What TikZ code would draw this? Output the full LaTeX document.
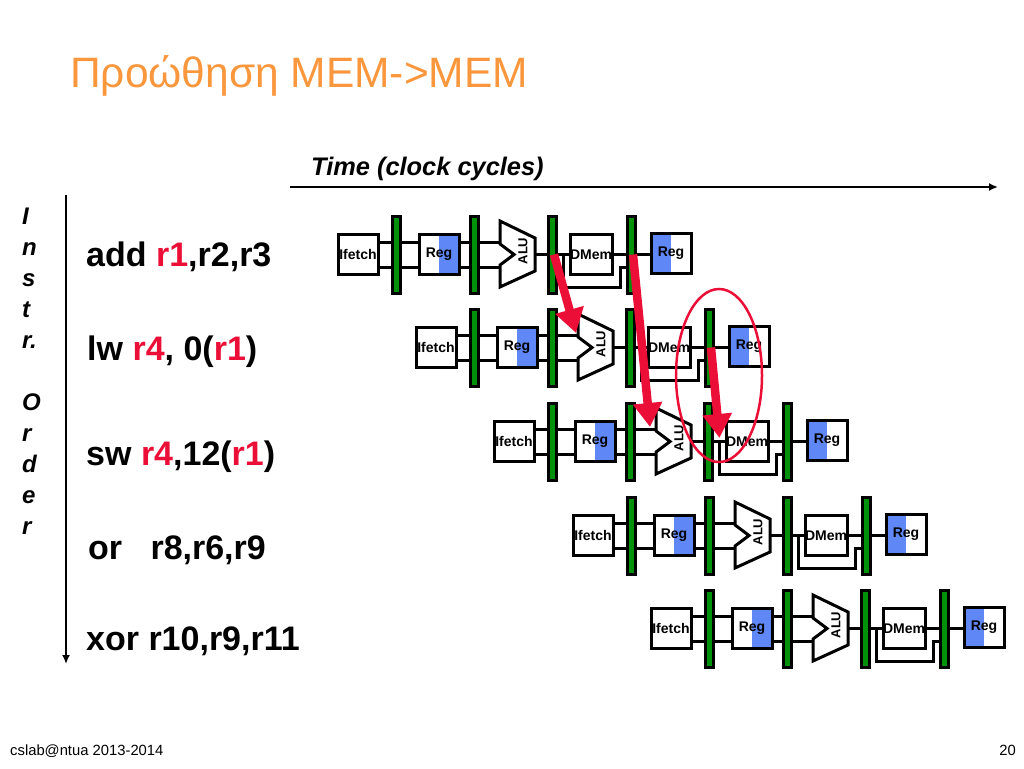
\documentclass[tikz,border=0pt]{standalone}
\usepackage{fontspec}
\setmainfont{Liberation Sans}
\usepackage{xcolor}
\usetikzlibrary{positioning,calc,arrows.meta,shapes.geometric}
\definecolor{titleorange}{RGB}{250,150,60}
\definecolor{fwdred}{RGB}{235,15,55}
\definecolor{latchgreen}{RGB}{0,145,10}
\definecolor{regblue}{RGB}{95,135,245}
\newcommand{\instrfont}{\fontsize{34}{40}\selectfont\bfseries}
\newcommand{\rr}[1]{\textcolor{fwdred}{#1}}
\tikzset{
    unit/.style={draw, line width=3pt, fill=white, minimum size=40pt, inner sep=0pt, font=\fontsize{14}{16}\selectfont\bfseries},
    regright/.style={unit, path picture={\fill[regblue] (path picture bounding box.south) rectangle (path picture bounding box.north east);}},
    regleft/.style={unit, path picture={\fill[regblue] (path picture bounding box.south west) rectangle (path picture bounding box.north);}},
    latch/.style={draw, line width=3pt, fill=latchgreen, minimum width=8pt, minimum height=77pt, inner sep=0pt},
    wire/.style={line width=3pt},
    axisline/.style={line width=2pt, -{Latex[length=9pt,width=8pt]}},
    fwd/.style={line width=8.5pt, draw=fwdred, fill=fwdred, -{Triangle[length=24pt,width=28pt]}},
    instr/.style={anchor=base west, font=\instrfont}
}
\begin{document}
\begin{tikzpicture}[x=1pt,y=-1pt]
    \useasboundingbox (0,0) rectangle (1024,768);

    % Title and footer
    \node[anchor=base west, inner sep=0pt, text=titleorange, font=\fontsize{42.5}{48}\selectfont] (title) at (70,87) {Προώθηση MEM->MEM};
    \node[anchor=base west, inner sep=0pt, font=\fontsize{14.8}{18}\selectfont] (footer) at (10,755) {cslab@ntua 2013-2014};
    \node[anchor=base east, inner sep=0pt, font=\fontsize{14.8}{18}\selectfont] (pagenum) at (1016,755) {20};

    % Axes
    \node[anchor=base west, inner sep=0pt, font=\fontsize{25.4}{28}\selectfont\bfseries\itshape] (timelabel) at (311,175) {Time (clock cycles)};
    \coordinate (timestart) at (290,187);
    \coordinate (timeend) at (998,187);
    \draw[axisline] (timestart) -- (timeend);
    \coordinate (orderstart) at (66,195);
    \coordinate (orderend) at (66,664);
    \draw[axisline] (orderstart) -- (orderend);
    \node[anchor=north west, inner sep=0pt, align=left, font=\fontsize{24}{31}\selectfont\bfseries\itshape] (orderlabel) at (22,208) {I\\n\\s\\t\\r.\\[31pt]O\\r\\d\\e\\r};

    % Instructions
    \node[instr, inner sep=0pt] (instrA) at (86,266) {add \rr{r1},r2,r3};
    \node[instr, inner sep=0pt] (instrB) at (87,360) {lw \rr{r4}, 0(\rr{r1})};
    \node[instr, inner sep=0pt] (instrC) at (86,465) {sw \rr{r4},12(\rr{r1})};
    \node[instr, inner sep=0pt] (instrD) at (88,559) {or\ \ \ r8,r6,r9};
    \node[instr, inner sep=0pt] (instrE) at (86,650) {xor r10,r9,r11};

    % Pipeline rows
    \foreach \row/\dx/\dy in {1/0/0, 2/78/93, 3/156/187, 4/235/281, 5/313/374} {
        \begin{scope}[shift={(\dx,\dy)}]
            \node[unit] (fetch\row) at (358,254.5) {Ifetch};
            \node[latch] (latchA\row) at (396,254.5) {};
            \node[regright] (reg\row) at (439,254.5) {Reg};
            \node[latch] (latchB\row) at (474,254.5) {};
            \node[latch] (latchC\row) at (552,254.5) {};
            \node[unit] (dmem\row) at (591,254.5) {DMem};
            \node[latch] (latchD\row) at (631,254.5) {};
            \node[regleft] (wb\row) at (671,253) {\raisebox{3pt}{Reg}};
            % ALU outline
            \draw[line width=3pt, fill=white, line join=miter] (500,221) -- (535,238) -- (535,271) -- (500,287) -- (500,265) -- (514,254.5) -- (500,244) -- cycle;
            \node[rotate=90, inner sep=0pt, font=\fontsize{13}{16}\selectfont\bfseries] (alu\row) at (523,251) {ALU};
            \coordinate (alutop\row) at (500,242);
            \coordinate (alubot\row) at (500,267);
            \coordinate (aluout\row) at (535,254.5);
            \coordinate (tap\row) at (563,254.5);
            \coordinate (turn\row) at (620,287);
        \end{scope}
        \draw[wire] ([yshift=12.5pt]fetch\row.east) -- ([yshift=12.5pt]latchA\row.west);
        \draw[wire] ([yshift=-12.5pt]fetch\row.east) -- ([yshift=-12.5pt]latchA\row.west);
        \draw[wire] ([yshift=12.5pt]latchA\row.east) -- ([yshift=12.5pt]reg\row.west);
        \draw[wire] ([yshift=-12.5pt]latchA\row.east) -- ([yshift=-12.5pt]reg\row.west);
        \draw[wire] ([yshift=12.5pt]reg\row.east) -- ([yshift=12.5pt]latchB\row.west);
        \draw[wire] ([yshift=-12.5pt]reg\row.east) -- ([yshift=-12.5pt]latchB\row.west);
        \draw[wire] ([yshift=12.5pt]latchB\row.east) -- (alutop\row);
        \draw[wire] ([yshift=-12.5pt]latchB\row.east) -- (alubot\row);
        \draw[wire] (aluout\row) -- (latchC\row.west);
        \draw[wire] (latchC\row.east) -- (dmem\row.west);
        \draw[wire] (dmem\row.east) -- (latchD\row.west);
        \draw[wire] (latchD\row.east) -- (latchD\row.east -| wb\row.west);
        \draw[wire] (tap\row) |- (turn\row) |- ([yshift=-12.5pt]latchD\row.west);
    }

    % Forwarding
    \node[draw=fwdred, line width=2.5pt, ellipse, minimum width=86pt, minimum height=173pt, inner sep=0pt] (hazard) at (719,375.5) {};
    \draw[fwd] ([xshift=2pt]latchC1.center) -- ([xshift=-2pt,yshift=2pt]alutop2);
    \draw[fwd] ([xshift=2pt]latchD1.center) -- ([xshift=-6pt,yshift=2pt]alutop3);
    \draw[fwd] ([xshift=2pt]latchD2.center) -- ([xshift=-5pt,yshift=3.5pt]dmem3.west);
\end{tikzpicture}
\end{document}
